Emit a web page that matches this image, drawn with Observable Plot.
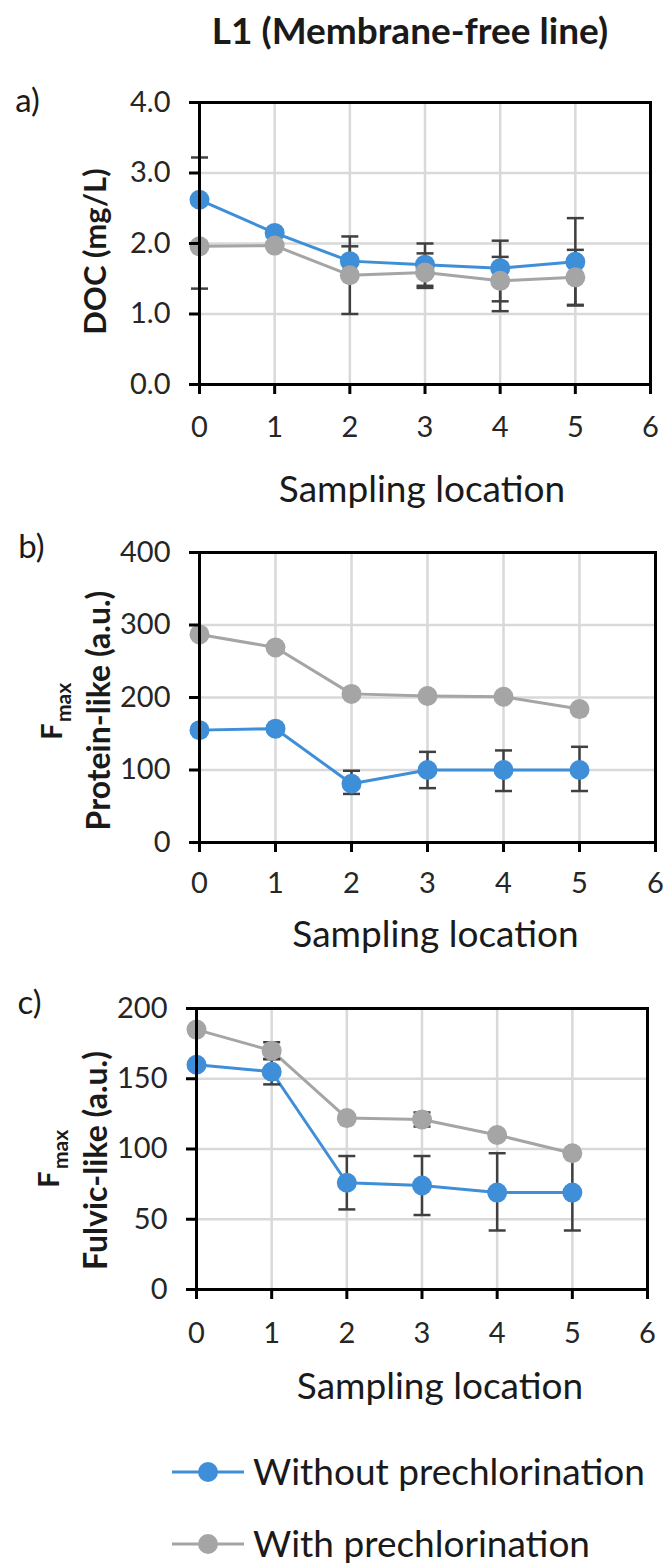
<!DOCTYPE html>
<html>
<head>
<meta charset="utf-8">
<script src="https://cdn.jsdelivr.net/npm/d3@7"></script>
<script src="https://cdn.jsdelivr.net/npm/@observablehq/plot@0.6"></script>
<style>
  html, body { margin: 0; padding: 0; background: #fff; overflow: hidden; }
  #fig { position: relative; width: 665px; height: 1565px; background: #fff; font-family: Lato, "Open Sans", sans-serif; }
  .abs { position: absolute; left: 0; }
</style>
</head>
<body>
<div id="fig"></div>
<script>
// ---------- data ----------
const locations = [0, 1, 2, 3, 4, 5];
const xTicks = [0, 1, 2, 3, 4, 5, 6];
const seriesNames = ["Without prechlorination", "With prechlorination"];
const seriesColors = ["#3f8ed8", "#a5a5a5"];

// a) DOC (mg/L)
const docWithout = [2.62, 2.15, 1.75, 1.70, 1.65, 1.74];
const docWith = [1.96, 1.97, 1.55, 1.59, 1.47, 1.52];
const docWithoutErrUp = [0.60, 0, 0.21, 0.30, 0.39, 0.62];
const docWithoutErrDown = [0.60, 0, 0.21, 0.30, 0.47, 0.62];
const docWithErrUp = [0.60, 0, 0.55, 0.27, 0.34, 0.39];
const docWithErrDown = [0.60, 0, 0.55, 0.22, 0.43, 0.39];
const docTicks = [0, 1, 2, 3, 4];

// b) Fmax protein-like (a.u.)
const protWithout = [155, 157, 81, 100, 100, 100];
const protWith = [287, 269, 205, 202, 201, 184];
const protWithoutErrUp = [0, 0, 18, 25, 27, 32];
const protWithoutErrDown = [0, 0, 14, 25, 29, 29];
const protWithErrUp = [0, 0, 0, 0, 0, 0];
const protWithErrDown = [0, 0, 0, 0, 0, 0];
const protTicks = [0, 100, 200, 300, 400];

// c) Fmax fulvic-like (a.u.)
const fulvWithout = [160, 155, 76, 74, 69, 69];
const fulvWith = [185, 170, 122, 121, 110, 97];
const fulvWithoutErrUp = [0, 9, 19, 21, 28, 27];
const fulvWithoutErrDown = [0, 9, 19, 21, 27, 27];
const fulvWithErrUp = [0, 6, 0, 5, 0, 0];
const fulvWithErrDown = [0, 6, 0, 5, 0, 0];
const fulvTicks = [0, 50, 100, 150, 200];

const xLabel = "Sampling location";
const titleText = "L1 (Membrane-free line)";

// ---------- helpers ----------
const FONT = "Lato, 'Open Sans', sans-serif";
const capSymbol = {
  draw(context, size) {
    const w = Math.sqrt(size / Math.PI);
    context.moveTo(-w, 0);
    context.lineTo(w, 0);
  }
};

function rowsFor(values, up, down, name) {
  return locations.map((x, i) => ({
    series: name, x, y: values[i], up: up[i], down: down[i],
    hi: values[i] + up[i], lo: values[i] - down[i]
  }));
}

function panel(cfg) {
  const rows = [
    ...rowsFor(cfg.without, cfg.withoutUp, cfg.withoutDown, seriesNames[0]),
    ...rowsFor(cfg.with, cfg.withUp, cfg.withDown, seriesNames[1])
  ];
  const bars = rows.filter(d => d.up > 0 || d.down > 0);
  const caps = [];
  for (const d of bars) {
    if (d.up > 0) caps.push({x: d.x, y: d.hi});
    if (d.down > 0) caps.push({x: d.x, y: d.lo});
  }
  const marks = [
    Plot.gridY(cfg.yTicks, {stroke: "#d9d9d9", strokeWidth: 2.5, strokeOpacity: 1}),
    Plot.gridX(locations.filter(x => x > 0), {stroke: "#d9d9d9", strokeWidth: 2.5, strokeOpacity: 1}),
    Plot.line(rows, {x: "x", y: "y", z: "series", stroke: "series", strokeWidth: 3}),
    Plot.ruleX(bars, {x: "x", y1: "lo", y2: "hi", stroke: "#404040", strokeWidth: 2.5}),
    Plot.dot(caps, {x: "x", y: "y", symbol: capSymbol, r: 8.5, stroke: "#404040", strokeWidth: 2.5, fill: "none"}),
    Plot.dot(rows, {x: "x", y: "y", fill: "series", r: 10}),
    Plot.frame({stroke: "black", strokeWidth: 3}),
    Plot.axisX({ticks: xTicks, tickFormat: d3.format("d"), tickSize: 10, tickPadding: cfg.xPad, strokeWidth: 3, fontSize: 29, label: null, fill: "#262626", stroke: "black"}),
    Plot.axisY({ticks: cfg.yTicks, tickFormat: cfg.yFormat, tickSize: 10, tickPadding: 19, strokeWidth: 3, fontSize: 29, label: null, fill: "#262626", stroke: "black"}),
    Plot.text([xLabel], {frameAnchor: "bottom", dy: cfg.xLabelDy, dx: cfg.xLabelDx, lineAnchor: "top", fontSize: 37, fill: "#1a1a1a"}),
    Plot.text([cfg.panelLabel], {frameAnchor: "top-left", dx: cfg.labelDx, dy: cfg.labelDy, textAnchor: "middle", lineAnchor: "middle", fontSize: 33, fill: "#1a1a1a"})
  ];
  for (const t of cfg.yTitles) {
    marks.push(Plot.text([t.text], {frameAnchor: "left", dx: t.dx, dy: t.dy, rotate: -90, textAnchor: "middle", lineAnchor: "middle", fontSize: t.size, fontWeight: "bold", fill: "#1a1a1a"}));
  }
  return Plot.plot({
    width: 665,
    height: cfg.height,
    marginTop: cfg.mt, marginBottom: cfg.mb, marginLeft: cfg.ml, marginRight: cfg.mr,
    style: {fontFamily: FONT, background: "white", color: "black", overflow: "visible"},
    x: {domain: [0, 6], axis: null},
    y: {domain: cfg.yDomain, axis: null},
    color: {domain: seriesNames, range: seriesColors},
    marks
  });
}

const fig = document.getElementById("fig");

function place(node, top) {
  node.classList.add("abs");
  node.style.top = top + "px";
  fig.appendChild(node);
}

// title
const titleSvg = d3.create("svg").attr("width", 665).attr("height", 60);
titleSvg.append("text").attr("x", 410).attr("y", 44).attr("text-anchor", "middle")
  .attr("font-family", FONT).attr("font-weight", "bold").attr("font-size", 37).attr("fill", "#1a1a1a")
  .text(titleText);
place(titleSvg.node(), 0);

// panel a
place(panel({
  without: docWithout, with: docWith,
  withoutUp: docWithoutErrUp, withoutDown: docWithoutErrDown,
  withUp: docWithErrUp, withDown: docWithErrDown,
  yDomain: [0, 4], yTicks: docTicks, yFormat: d3.format(".1f"),
  height: 460, mt: 42, mb: 136, ml: 199, mr: 15,
  xPad: 22, xLabelDy: 91, xLabelDx: -3,
  panelLabel: "a)", labelDx: -172, labelDy: -1,
  yTitles: [{text: "DOC (mg/L)", dx: -103, dy: 8, size: 31}]
}), 60);

// panel b
place(panel({
  without: protWithout, with: protWith,
  withoutUp: protWithoutErrUp, withoutDown: protWithoutErrDown,
  withUp: protWithErrUp, withDown: protWithErrDown,
  yDomain: [0, 400], yTicks: protTicks, yFormat: d3.format("d"),
  height: 440, mt: 32, mb: 118, ml: 199, mr: 10,
  xPad: 20, xLabelDy: 78, xLabelDx: 8,
  panelLabel: "b)", labelDx: -168, labelDy: -5,
  yTitles: [
    {text: "Protein-like (a.u.)", dx: -100, dy: 13, size: 32},
    {text: "F", dx: -147, dy: 34, size: 29},
    {text: "max", dx: -135, dy: 5, size: 21}
  ]
}), 520);

// panel c
place(panel({
  without: fulvWithout, with: fulvWith,
  withoutUp: fulvWithoutErrUp, withoutDown: fulvWithoutErrDown,
  withUp: fulvWithErrUp, withDown: fulvWithErrDown,
  yDomain: [0, 200], yTicks: fulvTicks, yFormat: d3.format("d"),
  height: 460, mt: 48, mb: 131, ml: 196, mr: 18,
  xPad: 23, xLabelDy: 83, xLabelDx: 18,
  panelLabel: "c)", labelDx: -167, labelDy: -5,
  yTitles: [
    {text: "Fulvic-like (a.u.)", dx: -100, dy: 11.5, size: 32},
    {text: "F", dx: -147, dy: 30.5, size: 29},
    {text: "max", dx: -135, dy: 0.5, size: 21}
  ]
}), 960);

// legend
const leg = d3.create("svg").attr("width", 665).attr("height", 145);
seriesNames.forEach((name, i) => {
  const cy = [52, 124][i];
  const g = leg.append("g");
  g.append("line").attr("x1", 172).attr("x2", 244).attr("y1", cy).attr("y2", cy)
    .attr("stroke", seriesColors[i]).attr("stroke-width", 3);
  g.append("circle").attr("cx", 208).attr("cy", cy).attr("r", 10).attr("fill", seriesColors[i]);
  g.append("text").attr("x", 253).attr("y", cy + 13).attr("font-family", FONT)
    .attr("font-size", 37).attr("fill", "#1a1a1a").text(name);
});
place(leg.node(), 1420);
</script>
</body>
</html>
